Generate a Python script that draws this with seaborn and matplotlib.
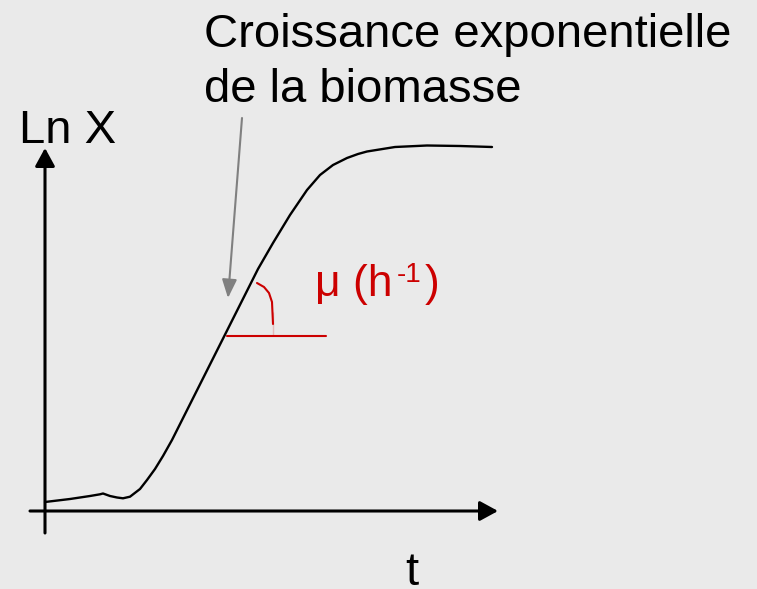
import numpy as np
import pandas as pd
import matplotlib
matplotlib.use('Agg')
import matplotlib.pyplot as plt
import seaborn as sns

# growth curve (t, ln X), arbitrary units
t_vals = [0, 2.5, 4.5, 5.5, 5.8, 6.5, 7.2, 7.8, 8.5, 9.5, 10.2, 11.0, 11.8,
          12.7, 21.3, 22.8, 24.5, 26.2, 27.5, 28.8, 30.2, 31.3, 32.2, 35.0,
          38.2, 41.5, 44.7]
lnx_vals = [0.9, 1.2, 1.5, 1.67, 1.75, 1.5, 1.35, 1.27, 1.43, 2.2, 3.1, 4.2, 5.5,
            7.1, 24.2, 26.8, 29.6, 32.1, 33.6, 34.6, 35.3, 35.7, 35.95, 36.4,
            36.55, 36.5, 36.4]

# slope mark (mu)
slope_x = [18.2, 28.1]
slope_y = [17.5, 17.5]
angle_x = [21.2, 21.9, 22.4, 22.7, 22.8, 22.8]
angle_y = [22.8, 22.4, 21.8, 20.9, 19.9, 17.5]

title_lines = ["Croissance exponentielle", "de la biomasse"]
y_label = "Ln X"
x_label = "t"
mu_parts = ["μ (h", "-1", ")"]

bg = "#EAEAEA"
red = "#CC0000"

sns.set_theme(style="white", rc={"axes.facecolor": bg, "figure.facecolor": bg})
plt.rcParams['font.family'] = ['Liberation Sans', 'DejaVu Sans']

fig = plt.figure(figsize=(7.57, 5.89), dpi=100)
ax = fig.add_axes([0, 0, 1, 1])
ax.set_xlim(-4.5, 71.2)
ax.set_ylim(-7.8, 51.1)
ax.set_axis_off()
fig.patch.set_facecolor(bg)

# axes arrows
ax.annotate("", xy=(45.3, 0), xytext=(-1.5, 0),
            arrowprops=dict(arrowstyle="-|>,head_length=0.55,head_width=0.3",
                            mutation_scale=20, lw=2.2, color="black",
                            shrinkA=0, shrinkB=0))
ax.annotate("", xy=(0, 36.3), xytext=(0, -2.2),
            arrowprops=dict(arrowstyle="-|>,head_length=0.55,head_width=0.3",
                            mutation_scale=20, lw=2.2, color="black",
                            shrinkA=0, shrinkB=0))

df = pd.DataFrame({"t": t_vals, "lnx": lnx_vals})
sns.lineplot(data=df, x="t", y="lnx", sort=False, color="black", lw=1.7,
             solid_joinstyle="round", ax=ax)

sns.lineplot(x=slope_x, y=slope_y, color=red, lw=1.5, ax=ax)
sns.lineplot(x=angle_x, y=angle_y, sort=False, color=red, lw=1.5,
             solid_joinstyle="round", ax=ax)

# grey pointer
ax.annotate("", xy=(18.3, 21.3), xytext=(19.7, 39.3),
            arrowprops=dict(arrowstyle="-|>,head_length=0.75,head_width=0.3",
                            mutation_scale=15, lw=1.5, color="#808080",
                            shrinkA=0, shrinkB=0))

fs = 34
ax.text(15.9, 46.4, title_lines[0], fontsize=fs, color="black")
ax.text(15.9, 40.9, title_lines[1], fontsize=fs, color="black")
ax.text(-2.64, 36.8, y_label, fontsize=fs, color="black")
ax.text(36.7, -7.4, x_label, fontsize=fs, color="black", ha="center", clip_on=False)

# mu (h-1) with superscript
ax.text(27.0, 21.5, mu_parts[0], fontsize=32, color=red)
ax.text(35.2, 22.9, mu_parts[1], fontsize=20, color=red)
ax.text(38.0, 21.5, mu_parts[2], fontsize=32, color=red)

fig.savefig("out.png", dpi=100, facecolor=bg)
